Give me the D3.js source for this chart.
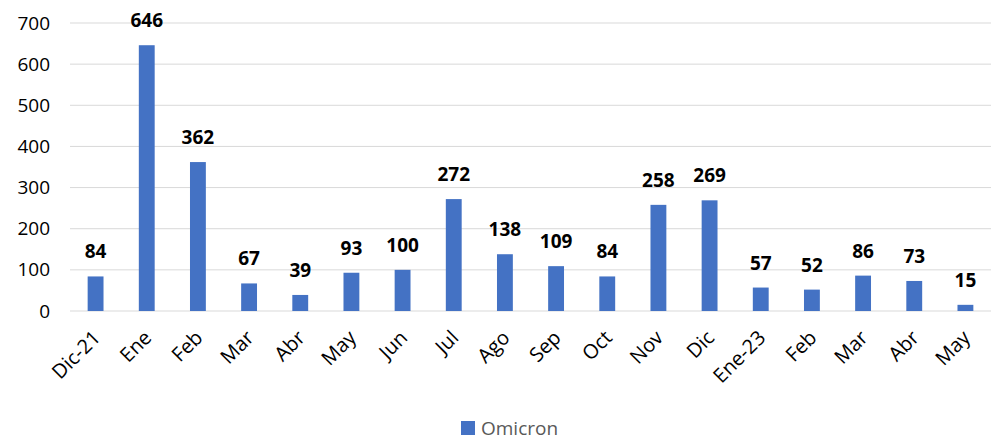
<!DOCTYPE html>
<html>
<head>
<meta charset="utf-8">
<script src="https://cdn.jsdelivr.net/npm/d3@7"></script>
<style>
  body { margin: 0; background: #fff; }
  text { font-family: "Open Sans", "Liberation Sans", sans-serif; }
</style>
</head>
<body>
<svg id="chart" width="997" height="442"></svg>
<script>
const months = ['Dic-21', 'Ene', 'Feb', 'Mar', 'Abr', 'May', 'Jun', 'Jul', 'Ago', 'Sep', 'Oct', 'Nov', 'Dic', 'Ene-23', 'Feb', 'Mar', 'Abr', 'May'];
const omicron = [84, 646, 362, 67, 39, 93, 100, 272, 138, 109, 84, 258, 269, 57, 52, 86, 73, 15];
const yTicks = [0, 100, 200, 300, 400, 500, 600, 700];
const seriesName = 'Omicron';

const svg = d3.select('#chart');
const margin = { left: 70, right: 6, top: 23, bottom: 131 };
const width = 997 - margin.left - margin.right;
const height = 442 - margin.top - margin.bottom;
const g = svg.append('g').attr('transform', `translate(${margin.left},${margin.top})`);

// months repeat, so band on index
const x = d3.scaleBand()
    .domain(months.map((d, i) => i))
    .range([0, width])
    .paddingInner(0.69)
    .paddingOuter(0.345);
const y = d3.scaleLinear().domain([0, 700]).range([height, 0]);

// gridlines
g.append('g')
    .selectAll('line')
    .data(yTicks)
    .join('line')
    .attr('x1', 0)
    .attr('x2', width)
    .attr('y1', (d) => y(d))
    .attr('y2', (d) => y(d))
    .attr('stroke', '#d9d9d9')
    .attr('stroke-width', 1);

const yAxis = g.append('g')
    .call(d3.axisLeft(y).tickValues(yTicks).tickSize(0).tickPadding(20));
yAxis.select('.domain').remove();
yAxis.selectAll('text')
    .attr('font-size', 19)
    .attr('fill', '#000')
    .style('font-family', '"Open Sans", sans-serif');

g.selectAll('rect.bar')
    .data(omicron)
    .join('rect')
    .attr('class', 'bar')
    .attr('x', (d, i) => x(i))
    .attr('width', x.bandwidth())
    .attr('y', (d) => y(d))
    .attr('height', (d) => height - y(d))
    .attr('fill', '#4472c4');

g.selectAll('text.val')
    .data(omicron)
    .join('text')
    .attr('class', 'val')
    .attr('x', (d, i) => x(i) + x.bandwidth() / 2)
    .attr('y', (d) => y(d) - 18)
    .attr('text-anchor', 'middle')
    .attr('font-size', 19)
    .attr('font-weight', 'bold')
    .attr('fill', '#000')
    .text((d) => d);

const xAxis = g.append('g')
    .attr('transform', `translate(0,${height})`)
    .call(d3.axisBottom(x).tickSize(0).tickFormat((i) => months[i]));
xAxis.select('.domain').remove();
xAxis.selectAll('text')
    .attr('font-size', 20)
    .attr('fill', '#000')
    .attr('text-anchor', 'end')
    .attr('dy', 0)
    .attr('y', 0)
    .attr('transform', 'translate(6,28) rotate(-45)');

// legend
const legend = svg.append('g').attr('transform', 'translate(461,421)');
legend.append('rect')
    .attr('width', 14)
    .attr('height', 14)
    .attr('fill', '#4472c4');
legend.append('text')
    .attr('x', 20)
    .attr('y', 14)
    .attr('font-size', 19)
    .attr('fill', '#595959')
    .text(seriesName);
</script>
</body>
</html>
